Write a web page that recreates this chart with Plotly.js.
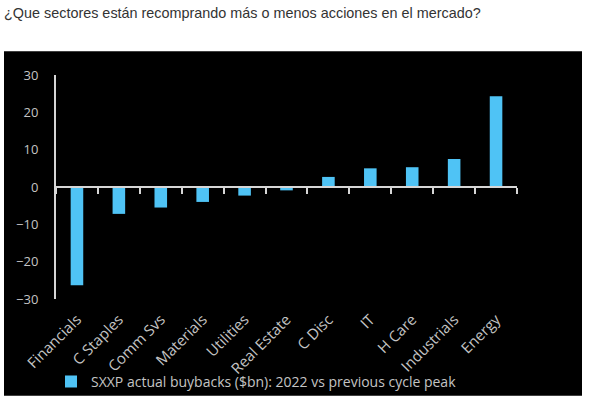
<!DOCTYPE html>
<html>
<head>
<meta charset="utf-8">
<script src="https://cdn.plot.ly/plotly-3.0.1.min.js"></script>
<style>
html,body{margin:0;padding:0;background:#fff;}
#chart{width:589px;height:410px;}
</style>
</head>
<body>
<div id="chart"></div>
<script>
const titleText = "¿Que sectores están recomprando más o menos acciones en el mercado?";
const seriesName = "SXXP actual buybacks ($bn): 2022 vs previous cycle peak";
const categories = ["Financials","C Staples","Comm Svs","Materials","Utilities","Real Estate","C Disc","IT","H Care","Industrials","Energy"];
const values = [-26.3, -7.2, -5.5, -4.0, -2.3, -0.9, 2.7, 5.0, 5.3, 7.5, 24.3];
const yTicks = [-30, -20, -10, 0, 10, 20, 30];

const chartFont = "Open Sans, Noto Sans, sans-serif";
const axisGray = "#d6d6d6";
const labelGray = "#c4c4c4";

const data = [{
  type: "bar",
  x: categories,
  y: values,
  name: seriesName,
  width: 0.3,
  marker: {color: "#4FC3F5", line: {width: 0}},
  hoverinfo: "x+y"
}];

const layout = {
  width: 589,
  height: 410,
  margin: {l: 56, r: 72, t: 75, b: 108},
  paper_bgcolor: "#ffffff",
  plot_bgcolor: "#000000",
  showlegend: true,
  title: {
    text: titleText,
    font: {family: "Liberation Sans, Arial, sans-serif", size: 14.4, color: "#333333"},
    xref: "container", x: 4/589, xanchor: "left",
    yref: "container", y: 1 - 13/410, yanchor: "middle"
  },
  shapes: [{
    type: "rect", xref: "paper", yref: "paper", layer: "below",
    x0: (4-56)/461, x1: (582-56)/461,
    y0: (302-400)/227, y1: (302-51)/227,
    fillcolor: "#000000", line: {width: 0}
  }],
  xaxis: {
    type: "category",
    anchor: "free",
    position: 0.5,
    showline: true,
    linecolor: axisGray,
    linewidth: 2,
    showgrid: false,
    zeroline: false,
    ticks: "outside",
    tickson: "boundaries",
    ticklen: 6,
    tickwidth: 2,
    tickcolor: axisGray,
    tickangle: -45,
    ticklabelstandoff: 117,
    tickfont: {family: chartFont, size: 15, color: labelGray},
    fixedrange: true
  },
  yaxis: {
    range: [-30, 30],
    anchor: "x",
    showline: true,
    linecolor: axisGray,
    linewidth: 2,
    showgrid: false,
    zeroline: false,
    ticks: "",
    tickvals: yTicks,
    ticklabelstandoff: 13,
    tickfont: {family: chartFont, size: 13, color: labelGray},
    fixedrange: true
  },
  legend: {
    orientation: "h",
    x: (51-56)/461, xanchor: "left",
    y: (302-386)/227, yanchor: "middle",
    bgcolor: "rgba(0,0,0,0)",
    font: {family: chartFont, size: 14, color: labelGray},
    itemclick: false, itemdoubleclick: false
  },
  bargap: 0.7
};

Plotly.newPlot("chart", data, layout, {displayModeBar: false, staticPlot: true});
</script>
</body>
</html>
